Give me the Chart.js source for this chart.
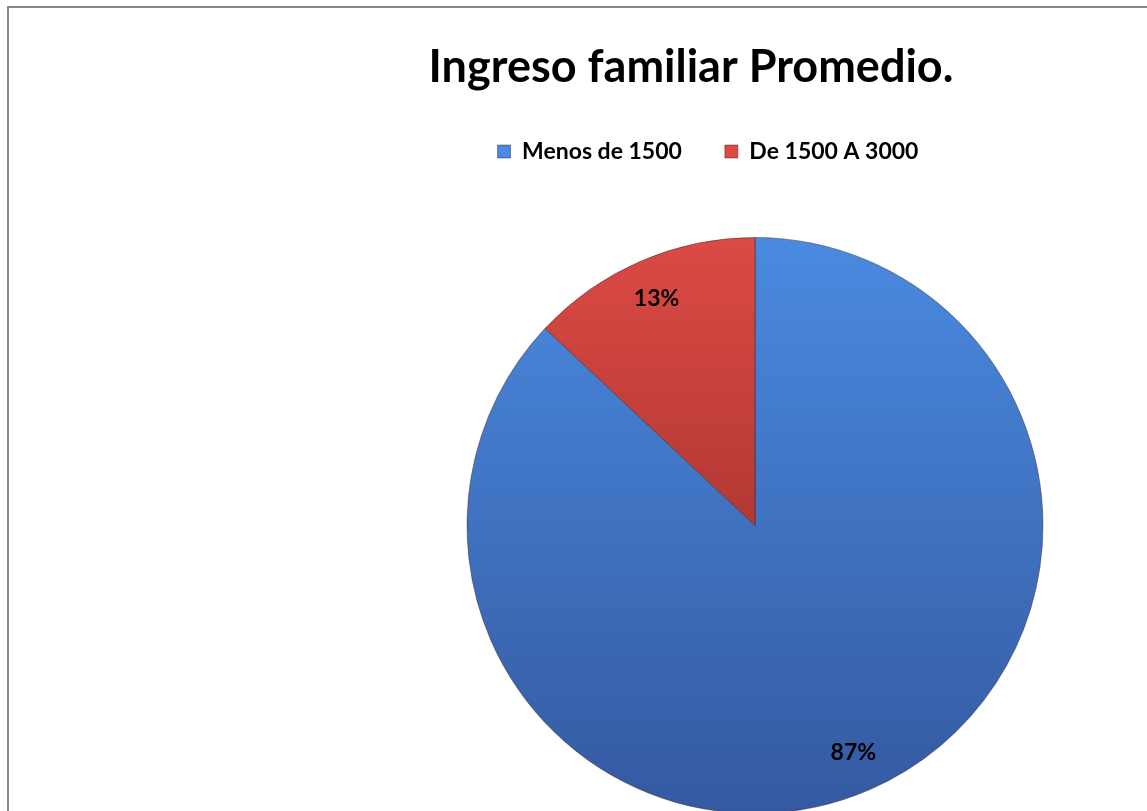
<!DOCTYPE html>
<html>
<head>
<meta charset="utf-8">
<title>Ingreso familiar Promedio.</title>
<script src="https://cdn.jsdelivr.net/npm/chart.js@4"></script>
<style>
    html, body { margin: 0; padding: 0; background: #fff; overflow: hidden; }
    #contenedor { position: relative; width: 1147px; height: 811px; overflow: hidden; }
    #marco { position: absolute; left: 7px; top: 6px; width: 1400px; height: 1100px;
             border-left: 2px solid #878787; border-top: 2px solid #878787; }
    #grafico { position: absolute; left: 0; top: 0; }
</style>
</head>
<body>
<div id="contenedor">
    <div id="marco"></div>
    <canvas id="grafico" width="1147" height="878"></canvas>
</div>
<script>
// Datos del gráfico
const categorias = ['Menos de 1500', 'De 1500 A 3000'];
const valores = [87, 13];

// Colores (arriba / abajo del degradado, y color plano de reserva)
const coloresArriba = ['#4a8ae0', '#dc4a45'];
const coloresAbajo = ['#3459a0', '#8c2622'];
const coloresPlanos = ['#4078c8', '#c63c38'];

const radio = 288;

// Degradado vertical sobre todo el círculo
function colorSector(context) {
    const chart = context.chart;
    const area = chart.chartArea;
    const i = context.dataIndex;
    if (!area || i === undefined) {
        return coloresPlanos[i || 0];
    }
    const cy = (area.top + area.bottom) / 2;
    const g = chart.ctx.createLinearGradient(0, cy - radio, 0, cy + radio);
    g.addColorStop(0, coloresArriba[i]);
    g.addColorStop(1, coloresAbajo[i]);
    return g;
}

// Porcentajes dentro de cada sector
const etiquetasPlugin = {
    id: 'etiquetas',
    afterDatasetsDraw(chart) {
        const ctx = chart.ctx;
        const meta = chart.getDatasetMeta(0);
        const total = valores.reduce((a, b) => a + b, 0);
        ctx.save();
        ctx.font = 'bold 23px Lato';
        ctx.fillStyle = '#000';
        ctx.textAlign = 'center';
        ctx.textBaseline = 'middle';
        meta.data.forEach((arc, i) => {
            const p = arc.getProps(['x', 'y', 'startAngle', 'endAngle', 'outerRadius'], true);
            const ang = (p.startAngle + p.endAngle) / 2;
            const r = p.outerRadius * 0.86;
            const texto = Math.round(valores[i] / total * 100) + '%';
            ctx.fillText(texto, p.x + Math.cos(ang) * r, p.y + Math.sin(ang) * r);
        });
        ctx.restore();
    }
};

// El título y la leyenda no están centrados sobre el círculo en el original
const desplazarPlugin = {
    id: 'desplazar',
    afterLayout(chart) {
        chart.titleBlock.left -= 64;
        chart.titleBlock.right -= 64;
        chart.legend.left -= 47;
        chart.legend.right -= 47;
    }
};

const ctx = document.getElementById('grafico').getContext('2d');
new Chart(ctx, {
    type: 'pie',
    data: {
        labels: categorias,
        datasets: [{
            data: valores,
            backgroundColor: colorSector,
            borderColor: 'rgba(50, 30, 30, 0.45)',
            borderWidth: 1,
            radius: radio,
            clip: false
        }]
    },
    options: {
        responsive: false,
        animation: false,
        layout: {
            padding: { left: 363, right: 0, top: 0, bottom: 0 }
        },
        plugins: {
            title: {
                display: true,
                text: 'Ingreso familiar Promedio.',
                color: '#000',
                font: { family: 'Lato', size: 45, weight: 'bold', lineHeight: 1.2 },
                padding: { top: 40, bottom: 3 }
            },
            legend: {
                position: 'top',
                labels: {
                    color: '#000',
                    font: { family: 'Lato', size: 23, weight: 'bold' },
                    boxWidth: 13,
                    boxHeight: 13,
                    padding: 43
                }
            },
            tooltip: { enabled: false }
        }
    },
    plugins: [etiquetasPlugin, desplazarPlugin]
});
</script>
</body>
</html>
